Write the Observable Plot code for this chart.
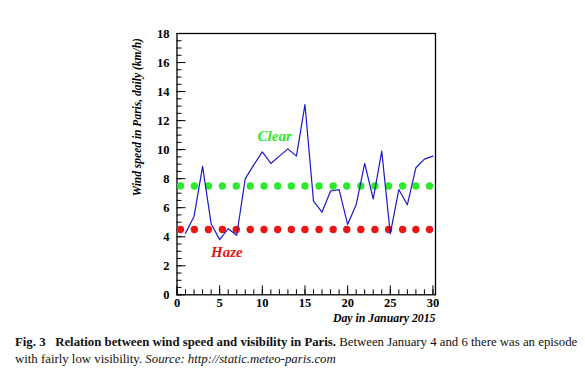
<!DOCTYPE html>
<html>
<head>
<meta charset="utf-8">
<script src="https://cdn.jsdelivr.net/npm/d3@7"></script>
<script src="https://cdn.jsdelivr.net/npm/@observablehq/plot@0.6"></script>
<style>
  html, body { margin: 0; padding: 0; background: #fff; }
  #chart svg { display: block; }
  #caption {
    font-family: "Liberation Serif", Tinos, "Times New Roman", Times, "DejaVu Serif", serif;
    font-size: 12.8px;
    line-height: 16.7px;
    margin: 4px 0 0 15px;
    color: #111;
    white-space: nowrap;
  }
</style>
</head>
<body>
<div id="chart"></div>
<div id="caption"><b>Fig. 3&nbsp;&nbsp;&nbsp;Relation between wind speed and visibility in Paris.</b> Between January 4 and 6 there was an episode<br>with fairly low visibility. <i>Source: http://static.meteo-paris.com</i></div>
<script>
// Daily wind speed in Paris, January 2015 (km/h)
const days = [1,2,3,4,5,6,7,8,9,10,11,12,13,14,15,16,17,18,19,20,21,22,23,24,25,26,27,28,29,30];
const windSpeed = [4.25,5.4,8.85,4.9,3.8,4.55,4.1,8.0,8.95,9.85,9.05,9.55,10.05,9.55,13.1,6.45,5.7,7.15,7.25,4.85,6.2,9.05,6.6,9.9,4.2,7.25,6.2,8.75,9.35,9.55];
// Reference levels drawn as dotted rows
const dotDays = [0.41,2.04,3.68,5.32,6.95,8.59,10.2,11.8,13.4,15.0,16.65,18.3,19.9,21.55,23.2,24.8,26.45,28.0,29.6];
const clearLevel = 7.5;
const hazeLevel = 4.5;
const xMajor = [0,5,10,15,20,25,30];
const xMinor = d3.range(0, 31, 1);
const yMajor = [0,2,4,6,8,10,12,14,16,18];
const yMinor = d3.range(0, 18.01, 0.5);
const labelClear = {day: 11.45, value: 10.9, text: "Clear"};
const labelHaze = {day: 5.85, value: 2.95, text: "Haze"};

const series = days.map((d, i) => ({day: d, speed: windSpeed[i]}));
const tickFont = {fontSize: 12.5, fontWeight: "bold"};
const serif = "'Liberation Serif', Tinos, 'Times New Roman', Times, 'DejaVu Serif', serif";

const chart = Plot.plot({
  width: 585,
  height: 330,
  marginLeft: 176.5,
  marginRight: 150,
  marginTop: 33,
  marginBottom: 35.7,
  style: {fontFamily: serif, background: "#fff", color: "#000"},
  x: {domain: [0, 30.3]},
  y: {domain: [0, 18]},
  marks: [
    Plot.axisY(yMinor, {tickSize: -5, tickFormat: () => "", label: null}),
    Plot.axisY(yMajor, {tickSize: -9, tickFormat: () => "", label: null}),
    Plot.axisY(yMajor, {tickSize: 0, tickPadding: 7.5, label: null, fontFamily: serif, ...tickFont}),
    Plot.axisX(xMinor, {tickSize: -5, tickFormat: () => "", label: null}),
    Plot.axisX(xMajor, {tickSize: -9, tickFormat: () => "", label: null}),
    Plot.axisX(xMajor, {tickSize: 0, tickPadding: 3, label: null, fontFamily: serif, ...tickFont}),
    Plot.frame({stroke: "#000", strokeWidth: 1.3}),
    Plot.dot(dotDays, {x: d => d, y: () => clearLevel, r: 3.7, fill: "#2ee82e", stroke: null}),
    Plot.dot(dotDays, {x: d => d, y: () => hazeLevel, r: 3.7, fill: "#ee1515", stroke: null}),
    Plot.line(series, {x: "day", y: "speed", stroke: "#1a1acc", strokeWidth: 1.2}),
    Plot.text([labelClear], {x: "day", y: "value", text: "text", fill: "#2ee82e", fontFamily: serif, fontSize: 15, fontWeight: "bold", fontStyle: "italic"}),
    Plot.text([labelHaze], {x: "day", y: "value", text: "text", fill: "#e01515", fontFamily: serif, fontSize: 15, fontWeight: "bold", fontStyle: "italic"}),
    Plot.text(["Wind speed in Paris, daily (km/h)"], {frameAnchor: "left", textAnchor: "middle", rotate: -90, dx: -40, dy: -47, fontFamily: serif, fontSize: 11.5, fontWeight: "bold", fontStyle: "italic", fill: "#000"}),
    Plot.text(["Day in January 2015"], {frameAnchor: "bottom-right", textAnchor: "end", dy: 27, fontFamily: serif, fontSize: 11.8, fontWeight: "bold", fontStyle: "italic", fill: "#000"})
  ]
});
document.getElementById("chart").appendChild(chart);
</script>
</body>
</html>
